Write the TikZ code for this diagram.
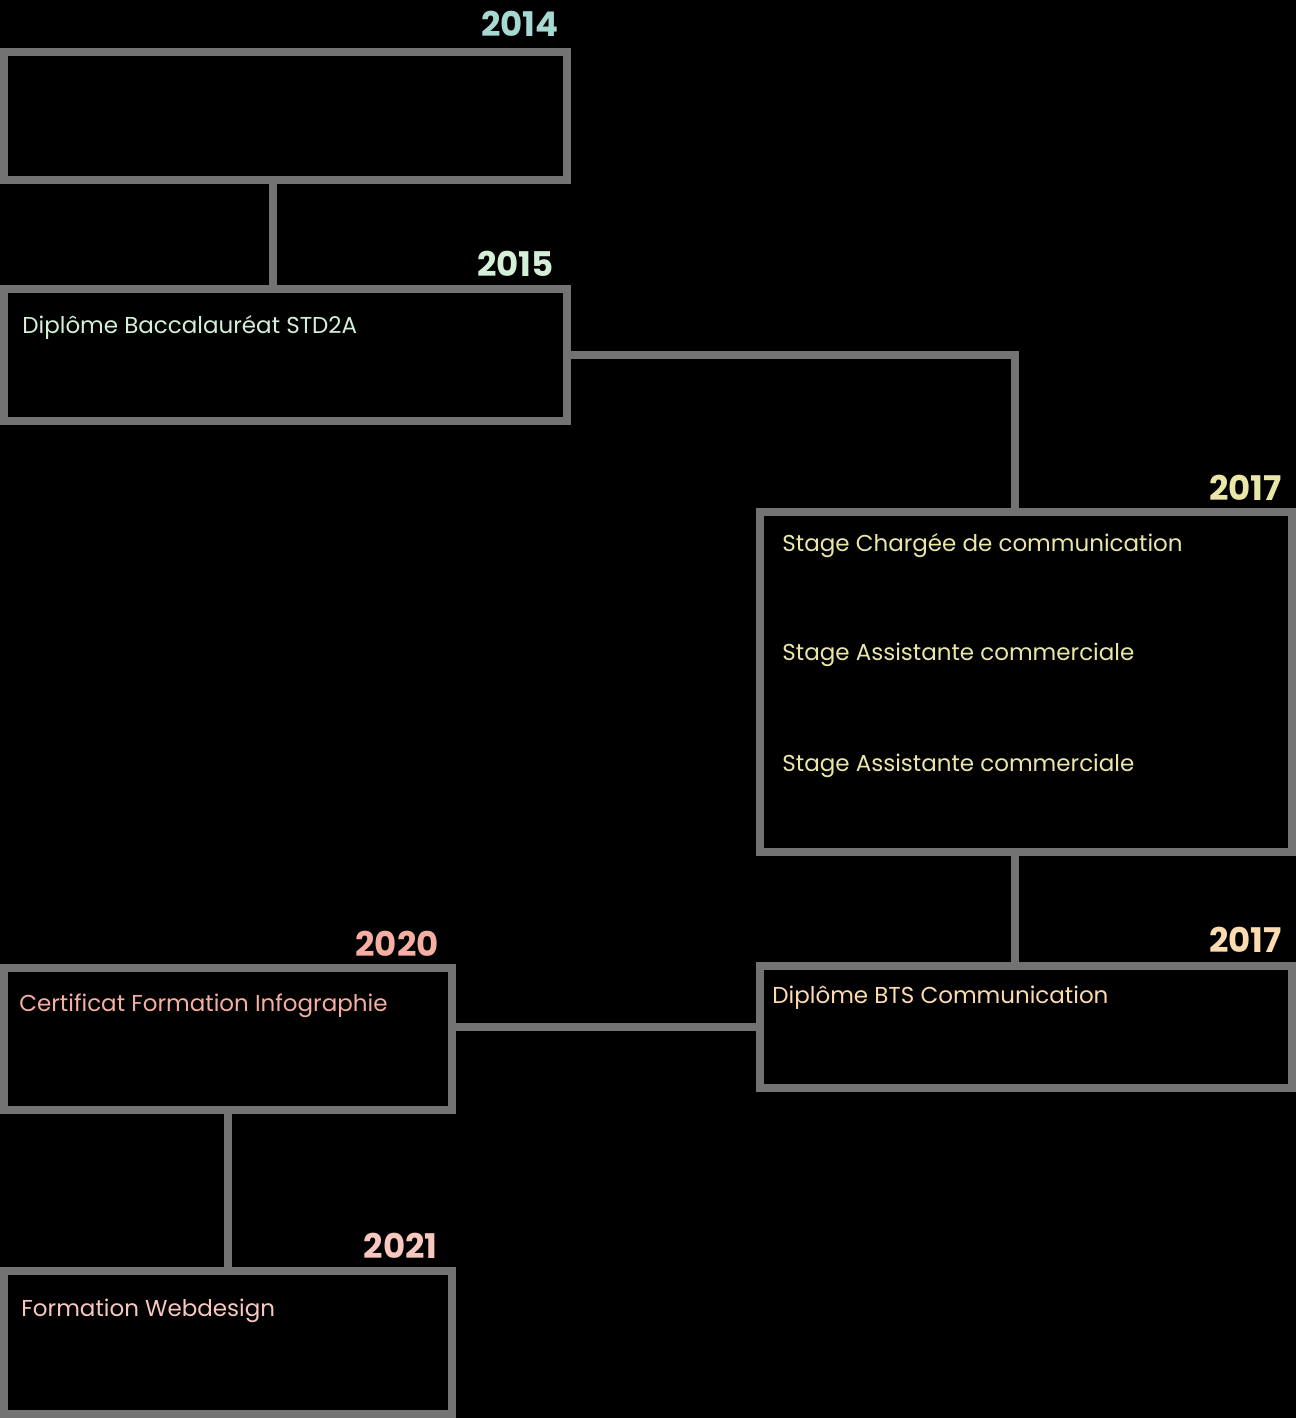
\documentclass[tikz,border=0pt]{standalone}
\usepackage{fontspec}
\setmainfont{Poppins}
\usepackage{xcolor}
\usetikzlibrary{positioning}

\definecolor{linegray}{HTML}{737373}
\definecolor{c14}{HTML}{A8D8D2}
\definecolor{c15}{HTML}{D4EFD8}
\definecolor{c17a}{HTML}{EAE6A8}
\definecolor{c17b}{HTML}{FDDBB0}
\definecolor{c20}{HTML}{F5AEA1}
\definecolor{c21}{HTML}{F8C8BE}

\begin{document}
\begin{tikzpicture}[
  x=0.5pt, y=-0.5pt,
  period/.style={draw=linegray, line width=4pt, outer sep=0pt, inner sep=0pt,
                 anchor=north west, minimum width=#1},
  period/.default=281.5pt,
  link/.style={draw=linegray, line width=4pt},
  year/.style={font=\fontsize{17}{20}\selectfont\bfseries, inner sep=0pt},
  entry/.style={font=\fontsize{11.5}{14}\selectfont, inner sep=0pt, text height=8.2pt}
]
% background
\fill[black] (0,0) rectangle (1296,1418);

% boxes
\node[period, minimum height=64pt] (b14) at (4,52) {};
\node[period, minimum height=66pt] (b15) at (4,289) {};
\node[period=266pt, minimum height=170pt] (b17a) at (760,512) {};
\node[period=266pt, minimum height=61pt] (b17b) at (760,966) {};
\node[period=224pt, minimum height=71pt] (b20) at (4,968) {};
\node[period=224pt, minimum height=71.5pt] (b21) at (4,1271) {};

% links
\draw[link] ([xshift=-6.25pt]b14.south) -- ([xshift=-6.25pt]b14.south |- b15.north);
\draw[link] (b15.east) -| ([xshift=-5.5pt]b17a.north);
\draw[link] ([xshift=-5.5pt]b17a.south) -- ([xshift=-5.5pt]b17a.south |- b17b.north);
\draw[link] (b17b.west) -- (b17b.west -| b20.east);
\draw[link] (b20.south) -- (b21.north);

% years
\node[year, text=c14, above left=7.5pt and 4pt of b14.north east] (y14) {2014};
\node[year, text=c15, above left=6pt and 6.5pt of b15.north east] (y15) {2015};
\node[year, text=c17a, above left=5.5pt and 5pt of b17a.north east] (y17a) {2017};
\node[year, text=c17b, above left=6.5pt and 5pt of b17b.north east] (y17b) {2017};
\node[year, text=c20, above left=5.5pt and 6.5pt of b20.north east] (y20) {2020};
\node[year, text=c21, above left=6pt and 7pt of b21.north east] (y21) {2021};

% entries
\node[entry, text=c15, below right=14pt and 9pt of b15.north west] (t15) {Diplôme Baccalauréat STD2A};
\node[entry, text=c17a, below right=11.5pt and 11pt of b17a.north west] (t17a) {Stage Chargée de communication};
\node[entry, text=c17a, below right=66pt and 11pt of b17a.north west] (t17b) {Stage Assistante commerciale};
\node[entry, text=c17a, below right=121.5pt and 11pt of b17a.north west] (t17c) {Stage Assistante commerciale};
\node[entry, text=c17b, below right=10.5pt and 6pt of b17b.north west] (t17d) {Diplôme BTS Communication};
\node[entry, text=c20, below right=13.5pt and 7.5pt of b20.north west] (t20) {Certificat Formation Infographie};
\node[entry, text=c21, below right=14.5pt and 8.5pt of b21.north west] (t21) {Formation Webdesign};
\end{tikzpicture}
\end{document}
